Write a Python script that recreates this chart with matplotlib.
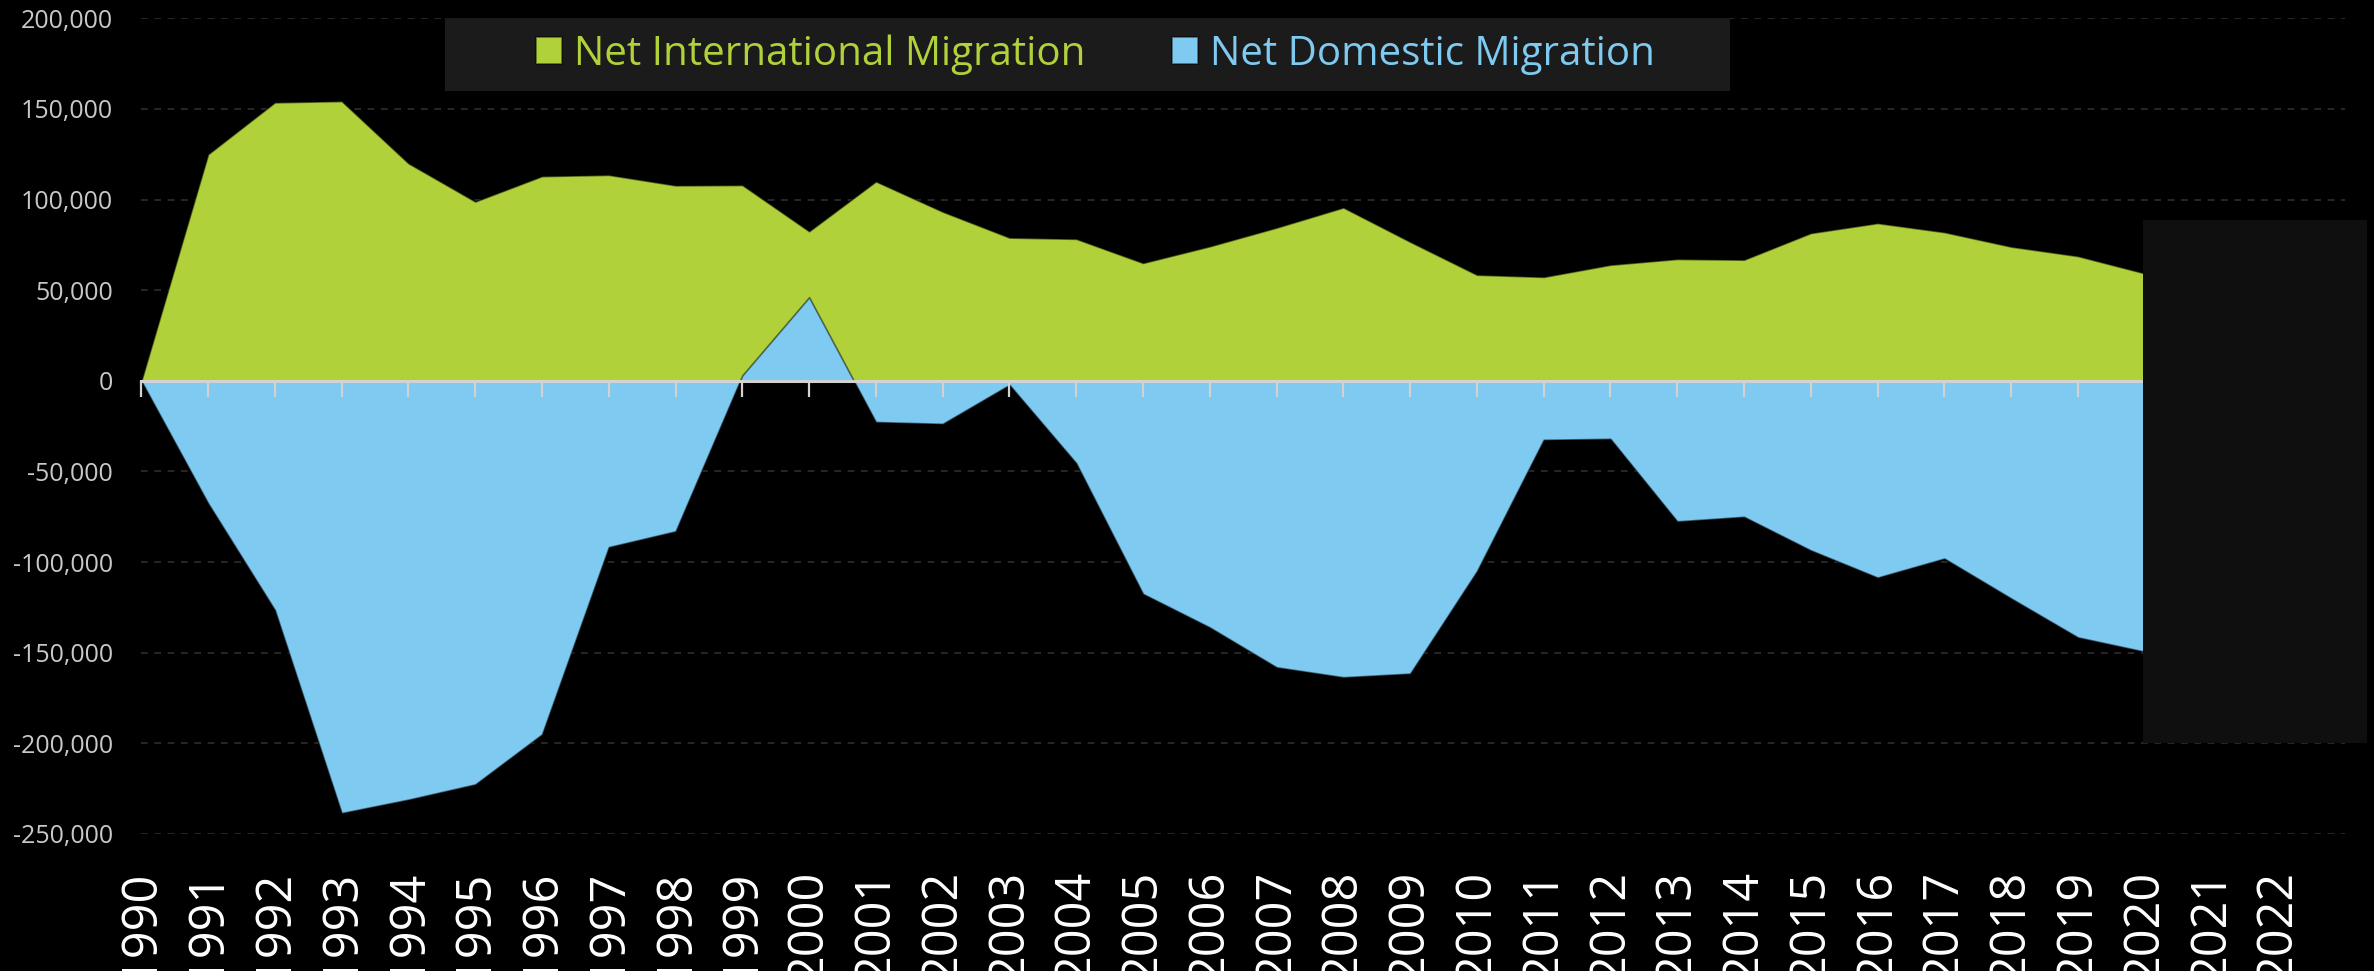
import matplotlib
matplotlib.use("Agg")
import matplotlib.pyplot as plt
from matplotlib.patches import Rectangle
from matplotlib.ticker import FuncFormatter

plt.rcParams['font.family'] = ['Open Sans', 'DejaVu Sans']

# ---- data ----
years = list(range(1990, 2021))
international = [0, 125000, 153600, 154300, 120000, 98900, 112900, 113600, 107800, 108000,
                 82500, 110000, 93300, 79000, 78300, 65000, 74200, 84500, 95600, 76700,
                 58500, 57300, 64000, 67200, 66800, 81500, 87000, 82000, 74000, 68800, 59300]
domestic = [0, -67500, -126400, -238400, -231000, -222600, -195000, -91700, -83000, 3000,
            46100, -22700, -23700, -2200, -45400, -117500, -136000, -158000, -163500, -161500,
            -105000, -32500, -32000, -77500, -75000, -93500, -108500, -98000, -120000, -141500, -149400]
tick_years = list(range(1990, 2023))
tick_labels = [str(y) for y in tick_years]
y_ticks = list(range(-250000, 200001, 50000))
series_names = ["Net International Migration", "Net Domestic Migration"]

# shaded block on the right
shade_x = (2019.97, 2023.33)
shade_y = (-200000, 88650)

GREEN = '#b0d13a'
BLUE = '#7fcaf0'
BG = '#000000'

fig = plt.figure(figsize=(23.74, 9.71), dpi=100, facecolor=BG)
ax = fig.add_axes([0.05952, 0.1411, 0.98778 - 0.05952, 0.9812 - 0.1411])
ax.set_facecolor(BG)

edge = (0, 0, 0, 0.5)
g = ax.fill_between(years, 0, international, facecolor=GREEN, edgecolor=edge, linewidth=1.2,
                    zorder=1, label=series_names[0])
b = ax.fill_between(years, 0, domestic, facecolor=BLUE, edgecolor=edge, linewidth=1.2,
                    zorder=1.1, label=series_names[1])

ax.set_xlim(1990, 2023)
ax.set_ylim(-250000, 200000)

for s in ax.spines.values():
    s.set_visible(False)

ax.set_yticks(y_ticks)
ax.yaxis.set_major_formatter(FuncFormatter(lambda v, p: f"{int(v):,}"))
ax.tick_params(axis='y', length=0, pad=20.5, labelsize=18, labelcolor='#c8c8c8')
ax.yaxis.grid(True, color='#2e2e2e', linestyle=(0, (4, 4)), linewidth=1.2, zorder=0)
ax.set_axisbelow(True)

ax.set_xticks(tick_years)
ax.set_xticklabels(tick_labels, rotation=90)
ax.tick_params(axis='x', length=0, pad=26, labelsize=35, labelcolor='#ffffff')

# zero axis line with downward ticks
sec = ax.secondary_xaxis(0, transform=ax.transData)
sec.set_xticks(tick_years)
sec.set_xticklabels([])
sec.tick_params(axis='x', direction='out', length=11.5, width=1.6, color='#d2d2d2')
sec.spines['bottom'].set_color('#d2d2d2')
sec.spines['bottom'].set_linewidth(2.2)
sec.set_zorder(3)

ax.add_patch(Rectangle((shade_x[0], shade_y[0]), shade_x[1] - shade_x[0], shade_y[1] - shade_y[0],
                       facecolor='#0f0f0f', edgecolor='none', zorder=4, clip_on=False))

# legend box
fig.patches.append(Rectangle((445 / 2374, 1 - 90.7 / 971), 1285 / 2374, 72.4 / 971,
                             transform=fig.transFigure, facecolor='#1b1b1b', edgecolor='none',
                             zorder=2))
leg = fig.legend(handles=[g, b], labels=series_names, loc='center',
                 bbox_to_anchor=(1095.5 / 2374, 1 - 54.5 / 971), ncol=2, frameon=False,
                 fontsize=29, handlelength=0.645, handleheight=0.645, handletextpad=0.3,
                 columnspacing=2.13, borderpad=0, borderaxespad=0)
leg.set_zorder(5)
for t, c in zip(leg.get_texts(), [GREEN, BLUE]):
    t.set_color(c)

fig.savefig('out.png', dpi=100, facecolor=BG)
